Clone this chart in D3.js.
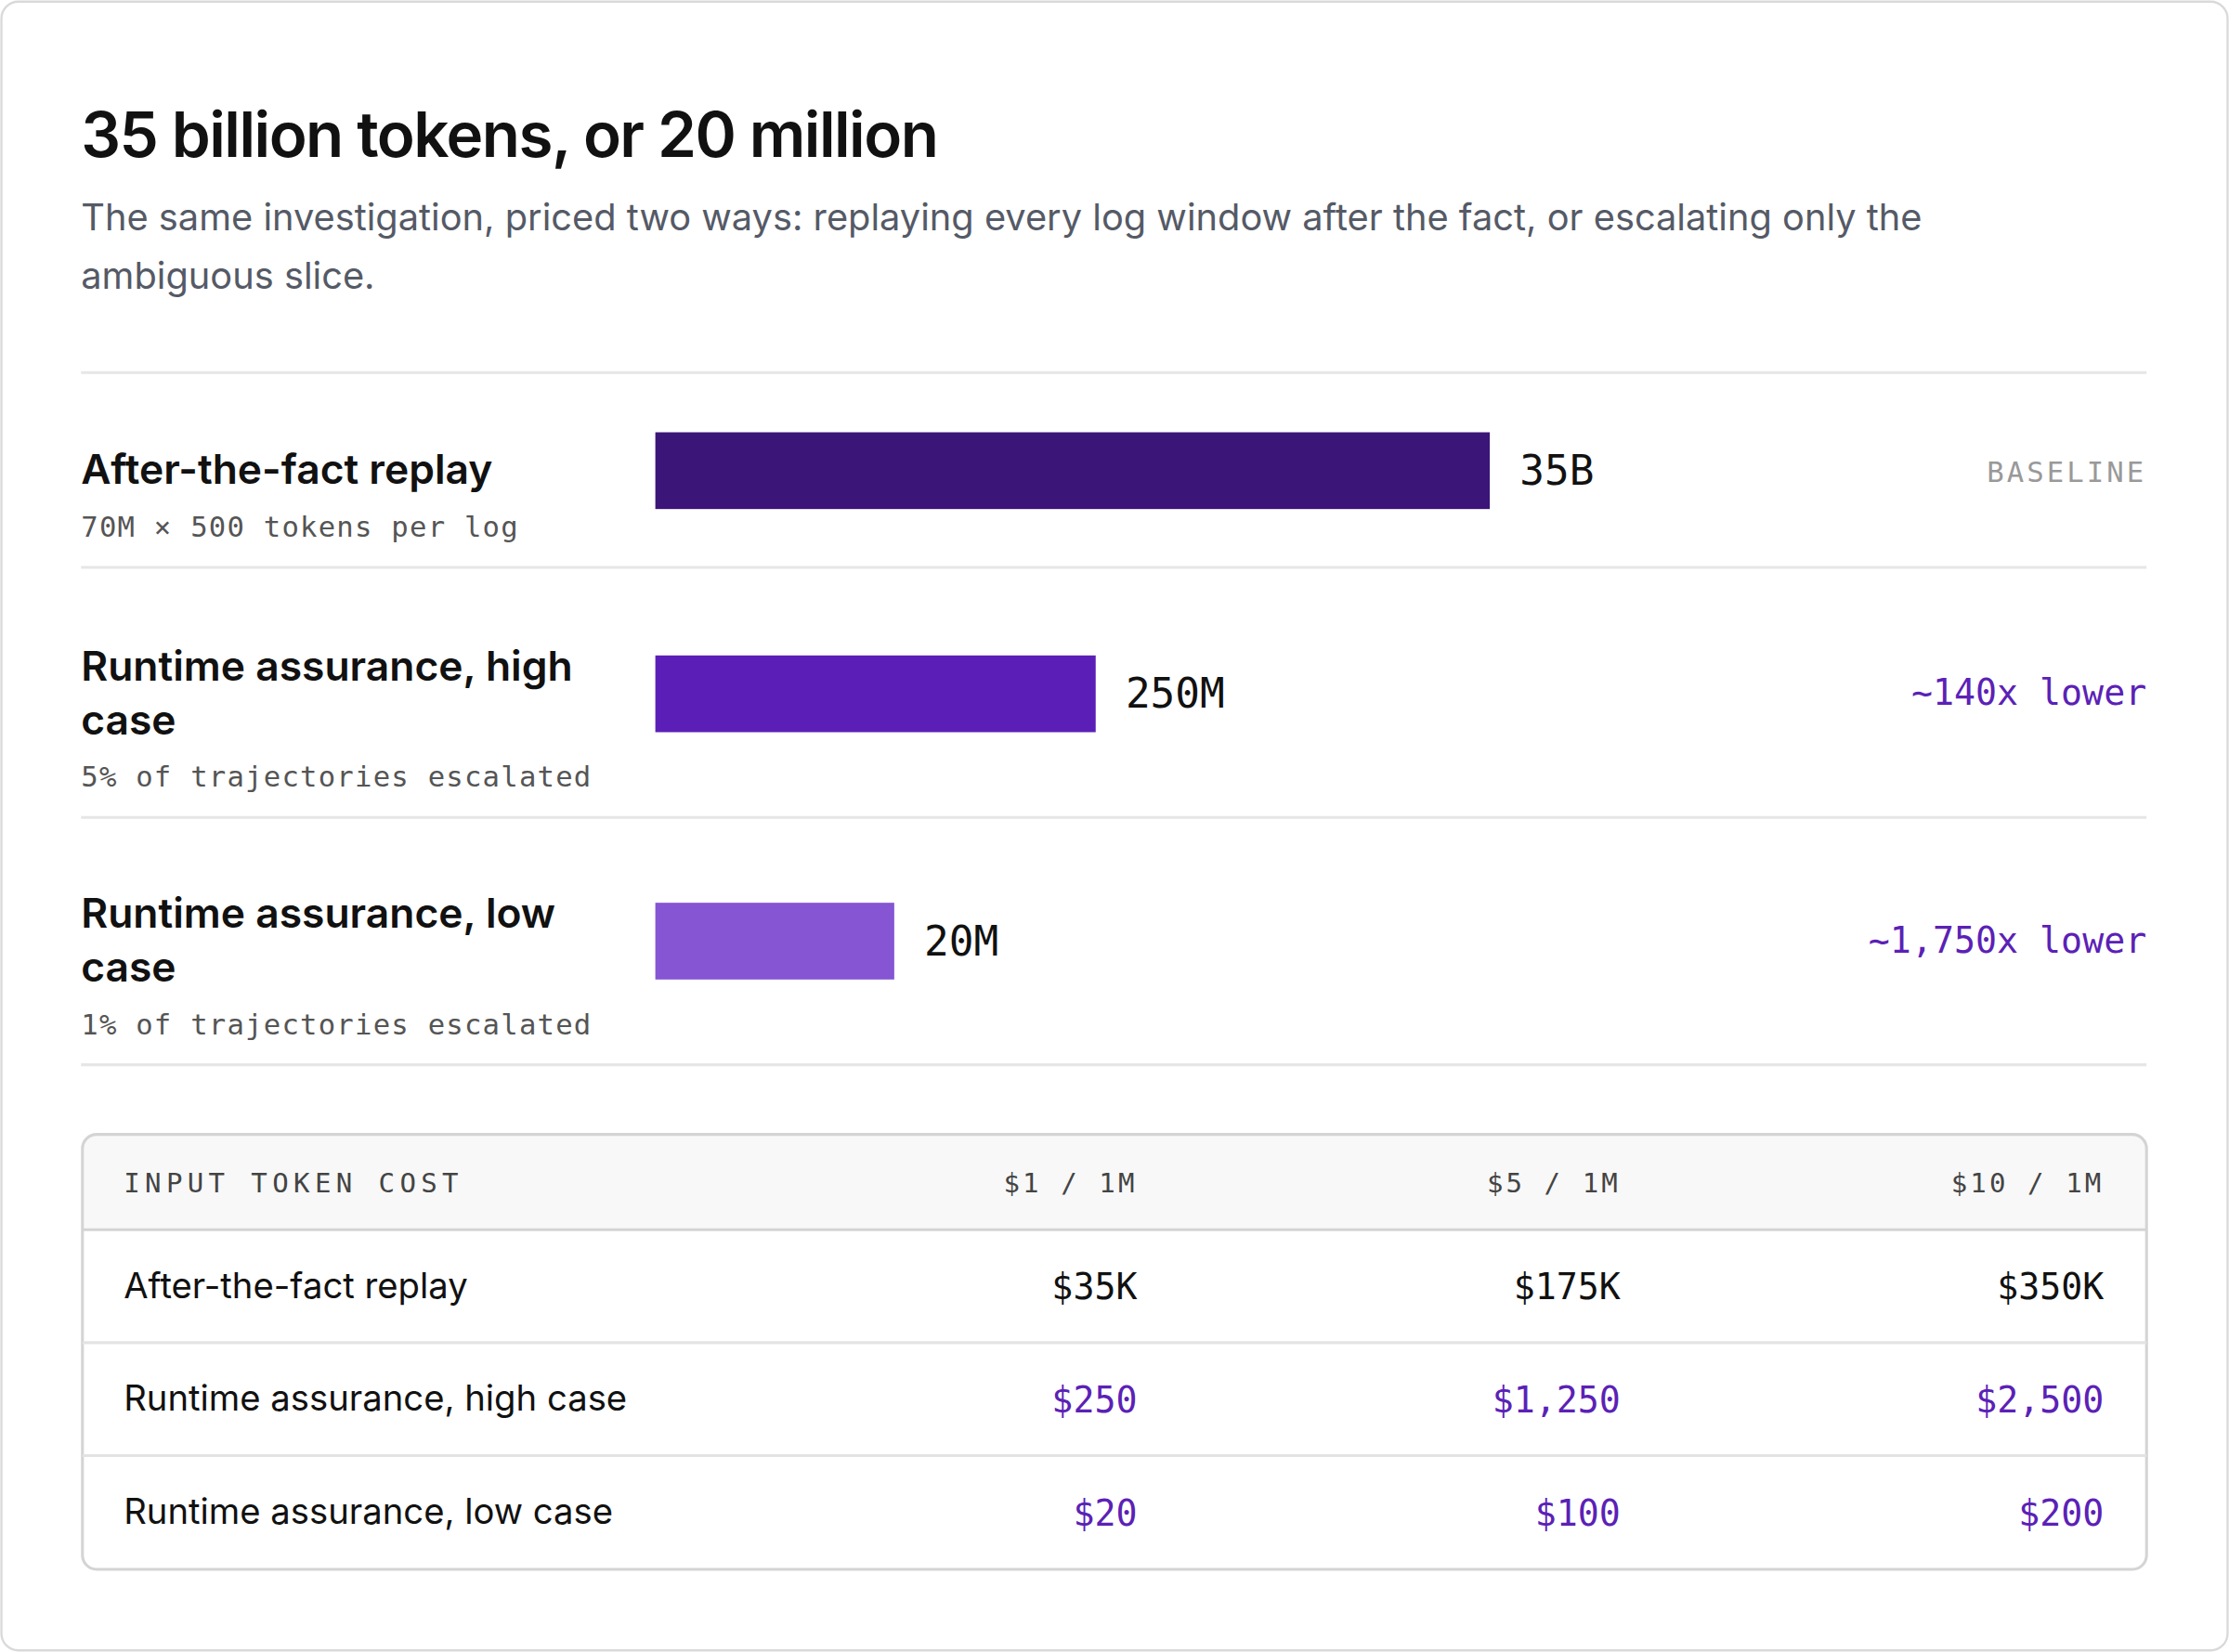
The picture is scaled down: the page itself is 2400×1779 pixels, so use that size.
<!DOCTYPE html>
<html>
<head>
<meta charset="utf-8">
<script src="https://cdn.jsdelivr.net/npm/d3@7"></script>
<style>
  body { margin:0; background:#fff; }
  svg { display:block; }
  .sans { font-family: Inter, "Noto Sans", sans-serif; }
  .mono { font-family: "DejaVu Sans Mono", "Liberation Mono", monospace; }
</style>
</head>
<body>
<div id="chart"></div>
<script>
// data
var labels = ["After-the-fact replay", "Runtime assurance, high case", "Runtime assurance, low case"];
var subLabels = ["70M \u00d7 500 tokens per log", "5% of trajectories escalated", "1% of trajectories escalated"];
var tokens = [35e9, 250e6, 20e6];
var tokenLabels = ["35B", "250M", "20M"];
var notes = ["BASELINE", "~140x lower", "~1,750x lower"];
var priceCols = ["$1 / 1M", "$5 / 1M", "$10 / 1M"];
var costRows = [
  ["$35K", "$175K", "$350K"],
  ["$250", "$1,250", "$2,500"],
  ["$20", "$100", "$200"]
];
var barColors = ["#3b1578", "#5b1fb8", "#8555d3"];
var purple = "#5b21b6";

// layout (drawn in 1568x1162 units, scaled to window)
var W = 1568, H = 1162;
var left = 57, right = 1510;
var svg = d3.select("#chart").append("svg")
  .attr("width", 2400).attr("height", 1779)
  .attr("viewBox", "0 0 " + W + " " + H);

svg.append("rect").attr("x", 1).attr("y", 1).attr("width", W - 2).attr("height", H - 2)
  .attr("rx", 12).attr("fill", "#fff").attr("stroke", "#d9d9d9").attr("stroke-width", 1.5);

svg.append("text").attr("class", "sans").attr("x", left).attr("y", 110)
  .attr("font-size", 44).attr("font-weight", 600).attr("fill", "#111").attr("letter-spacing", -1)
  .text("35 billion tokens, or 20 million");

var sub = svg.append("text").attr("class", "sans").attr("font-size", 26).attr("fill", "#555a66");
sub.append("tspan").attr("x", left).attr("y", 162)
  .text("The same investigation, priced two ways: replaying every log window after the fact, or escalating only the");
sub.append("tspan").attr("x", left).attr("y", 203).text("ambiguous slice.");

// bars
var x = d3.scaleLog().domain([1e6, 35e9]).range([0, 587]);
var barX = 461;
var rowTop = [262, 399, 575, 749];
var barY = [304, 461, 635];

function div(y) {
  svg.append("line").attr("x1", left).attr("x2", right).attr("y1", y).attr("y2", y)
    .attr("stroke", "#e6e6e6").attr("stroke-width", 2);
}
rowTop.forEach(div);

function wrap(g, words, x0, y0, lh, maxW, attrs) {
  var lines = [], cur = [];
  var t = g.append("text");
  for (var k in attrs) t.attr(k, attrs[k]);
  words.split(" ").forEach(function(w) {
    var test = cur.concat([w]).join(" ");
    t.text(test);
    if (t.node().getComputedTextLength() > maxW && cur.length) { lines.push(cur.join(" ")); cur = [w]; }
    else cur.push(w);
  });
  lines.push(cur.join(" "));
  t.text(null);
  lines.forEach(function(l, i) { t.append("tspan").attr("x", x0).attr("y", y0 + i * lh).text(l); });
  return lines.length;
}

labels.forEach(function(lab, i) {
  var g = svg.append("g");
  var by = barY[i], bh = 54;
  var n = wrap(g, lab, left, 0, 38, 370, {"class": "sans", "font-size": 29, "font-weight": 600, "fill": "#111"});
  var blockH = 38 * (n - 1) + 37;
  var top = by + bh / 2 - blockH / 2 + 8;
  g.select("text").selectAll("tspan").attr("y", function(d, j) { return top + 20 + j * 38; });
  g.append("text").attr("class", "mono").attr("x", left).attr("y", top + 20 + (n - 1) * 38 + 37)
    .attr("font-size", 20).attr("fill", "#555").attr("letter-spacing", 0.8).text(subLabels[i]);

  g.append("rect").attr("x", barX).attr("y", by).attr("width", x(tokens[i])).attr("height", bh)
    .attr("fill", barColors[i]);
  g.append("text").attr("class", "mono").attr("x", barX + x(tokens[i]) + 21).attr("y", by + bh / 2 + 10)
    .attr("font-size", 29).attr("fill", "#111").text(tokenLabels[i]);
  g.append("text").attr("class", "mono").attr("x", right).attr("y", by + bh / 2 + 8)
    .attr("text-anchor", "end")
    .attr("font-size", i == 0 ? 20 : 25).attr("letter-spacing", i == 0 ? 2 : 0)
    .attr("fill", i == 0 ? "#999" : purple).text(notes[i]);
});

// table
var tx = 58, ty = 798, tw = 1452, th = 306, hh = 67, rh = 79.5;
var colRight = [800, 1140, 1480];
var t = svg.append("g");
t.append("clipPath").attr("id", "tclip").append("rect")
  .attr("x", tx).attr("y", ty).attr("width", tw).attr("height", th).attr("rx", 10);
t.append("rect").attr("x", tx).attr("y", ty).attr("width", tw).attr("height", hh)
  .attr("fill", "#f8f8f8").attr("clip-path", "url(#tclip)");
t.append("rect").attr("x", tx).attr("y", ty).attr("width", tw).attr("height", th).attr("rx", 10)
  .attr("fill", "none").attr("stroke", "#d4d4d4").attr("stroke-width", 2);
t.append("text").attr("class", "mono").attr("x", 87).attr("y", ty + 41).attr("font-size", 19)
  .attr("letter-spacing", 3.5).attr("fill", "#444").text("INPUT TOKEN COST");
priceCols.forEach(function(p, j) {
  t.append("text").attr("class", "mono").attr("x", colRight[j]).attr("y", ty + 41).attr("font-size", 19)
    .attr("text-anchor", "end").attr("letter-spacing", 2).attr("fill", "#444").text(p);
});
labels.forEach(function(lab, i) {
  var y0 = ty + hh + i * rh;
  t.append("line").attr("x1", tx).attr("x2", tx + tw).attr("y1", y0).attr("y2", y0)
    .attr("stroke", i == 0 ? "#d4d4d4" : "#e3e3e3").attr("stroke-width", 2);
  t.append("text").attr("class", "sans").attr("x", 87).attr("y", y0 + 48).attr("font-size", 25)
    .attr("fill", "#111").text(lab);
  costRows[i].forEach(function(v, j) {
    t.append("text").attr("class", "mono").attr("x", colRight[j]).attr("y", y0 + 49).attr("font-size", 25)
      .attr("text-anchor", "end").attr("fill", i == 0 ? "#111" : purple).text(v);
  });
});
</script>
</body>
</html>
